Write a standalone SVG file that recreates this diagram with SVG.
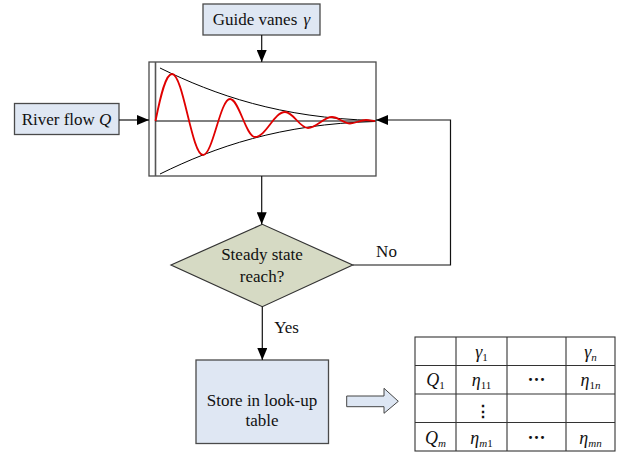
<svg xmlns="http://www.w3.org/2000/svg" width="628" height="452" viewBox="0 0 628 452">
<style>
.box{fill:#dfe7f3;stroke:#4a4a4a;stroke-width:1.3}
.t{font-family:"Liberation Serif","Times New Roman",serif;font-size:17px;fill:#111;text-anchor:middle}
.tb{font-family:"Liberation Serif","Times New Roman",serif;font-size:18px;fill:#111;text-anchor:middle}
.i{font-style:italic}
.sub{font-size:11px}
.con{fill:none;stroke:#111;stroke-width:1.2}
.grid{stroke:#333;stroke-width:1.1;fill:none}
</style>
<defs>
<marker id="ah" markerWidth="12" markerHeight="10" refX="12" refY="5" orient="auto" markerUnits="userSpaceOnUse">
<path d="M0,0 L12,5 L0,10 Z" fill="#000"/>
</marker>
</defs>
<rect width="628" height="452" fill="#fff"/>

<g id="guide">
<rect class="box" x="203" y="4" width="117" height="31"/>
<text class="t" x="261.5" y="25">Guide vanes <tspan class="i" dx="2">γ</tspan></text>
</g>

<g id="river">
<rect class="box" x="14.5" y="103.5" width="104.5" height="31"/>
<text class="t" x="66.5" y="125">River flow <tspan class="i">Q</tspan></text>
</g>

<g id="plant">
<rect x="149" y="62" width="227" height="114" fill="#fff" stroke="#4a4a4a" stroke-width="1.3"/>
<line x1="155.5" y1="62" x2="155.5" y2="176" stroke="#555" stroke-width="1.6"/>
<line x1="155.5" y1="121" x2="376" y2="121" stroke="#000" stroke-width="1"/>
<path d="M160,68 C215,95 280,118 375,120.5" fill="none" stroke="#000" stroke-width="1"/>
<path d="M160,174 C215,147 280,124 375,121.5" fill="none" stroke="#000" stroke-width="1"/>
<path d="M155.5,121 C160.5,96 165.5,74 172,74 C183.3,74 191.7,155 203,155 C212.8,155 220.2,99 230,99 C239.1,99 245.9,137 255,137 C265.9,137 274.1,112 285,112 C293.4,112 299.6,128 308,128 C316.7,128 323.3,117 332,117 C338.6,117 343.4,123.5 350,123.5 C355.8,123.5 360.2,120 366,120 C370,120 372,121 375,121" fill="none" stroke="#e00000" stroke-width="1.8"/>
</g>

<g id="decision">
<polygon points="171,265 262.3,224.3 352.7,265 262.3,306.7" fill="#d6dac4" stroke="#333" stroke-width="1.2"/>
<text class="t" x="262" y="260">Steady state</text>
<text class="t" x="262" y="282">reach?</text>
</g>

<g id="store">
<rect class="box" x="196" y="360" width="132.5" height="83.5"/>
<text class="t" x="262" y="406">Store in look-up</text>
<text class="t" x="262" y="426">table</text>
</g>

<g id="bigarrow">
<polygon points="346.7,396 384,396 384,388.3 398.3,401.3 384,413.3 384,406.7 346.7,406.7" fill="#dde6f3" stroke="#444" stroke-width="1"/>
</g>

<g id="table">
<rect class="grid" x="415" y="337" width="200" height="114"/>
<line class="grid" x1="456" y1="337" x2="456" y2="451"/>
<line class="grid" x1="507" y1="337" x2="507" y2="451"/>
<line class="grid" x1="566" y1="337" x2="566" y2="451"/>
<line class="grid" x1="415" y1="365.5" x2="615" y2="365.5"/>
<line class="grid" x1="415" y1="394" x2="615" y2="394"/>
<line class="grid" x1="415" y1="422.5" x2="615" y2="422.5"/>
<text class="tb" x="481.5" y="358"><tspan class="i">γ</tspan><tspan class="sub" dy="3">1</tspan></text>
<text class="tb" x="590.5" y="358"><tspan class="i">γ</tspan><tspan class="sub i" dy="3">n</tspan></text>
<text class="tb" x="435.5" y="386"><tspan class="i">Q</tspan><tspan class="sub" dy="3">1</tspan></text>
<text class="tb" x="481.5" y="386"><tspan class="i">η</tspan><tspan class="sub" dy="3">11</tspan></text>
<text class="tb" x="536.5" y="386" font-weight="bold">···</text>
<text class="tb" x="590.5" y="386"><tspan class="i">η</tspan><tspan class="sub" dy="3">1<tspan class="i">n</tspan></tspan></text>
<text x="483" y="417" font-family="DejaVu Serif,serif" font-size="16" font-weight="bold" text-anchor="middle" fill="#111">⋮</text>
<text class="tb" x="435.5" y="444"><tspan class="i">Q</tspan><tspan class="sub i" dy="3">m</tspan></text>
<text class="tb" x="481.5" y="444"><tspan class="i">η</tspan><tspan class="sub" dy="3"><tspan class="i">m</tspan>1</tspan></text>
<text class="tb" x="536.5" y="444" font-weight="bold">···</text>
<text class="tb" x="590.5" y="444"><tspan class="i">η</tspan><tspan class="sub i" dy="3">mn</tspan></text>
</g>

<g id="connectors">
<path class="con" d="M261.7,35 V62" marker-end="url(#ah)"/>
<path class="con" d="M119,120 H149" marker-end="url(#ah)"/>
<path class="con" d="M261.7,176 V224.3" marker-end="url(#ah)"/>
<path class="con" d="M352.7,265 H450.5 V120 H376" marker-end="url(#ah)"/>
<path class="con" d="M262.3,306.7 V360" marker-end="url(#ah)"/>
<text class="t" x="386.5" y="257">No</text>
<text class="t" x="286.5" y="333">Yes</text>
</g>
</svg>
